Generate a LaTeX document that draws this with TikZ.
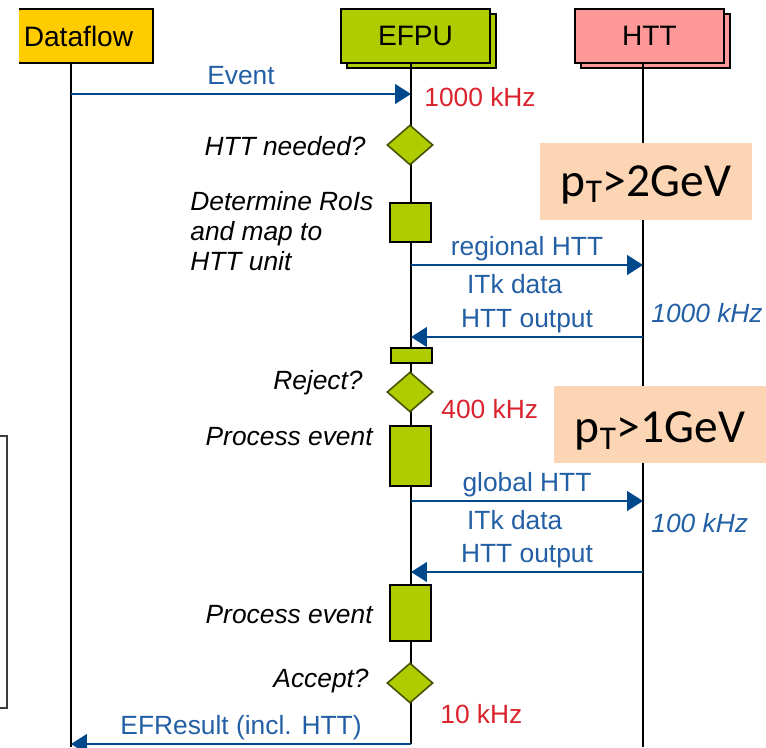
\documentclass[tikz,border=0pt]{standalone}
\usepackage{fontspec}
\setmainfont{Liberation Sans}
\newfontfamily\calibri{Carlito}
\usetikzlibrary{
    arrows.meta,
    positioning,
    shapes.geometric,
    shadows,
    calc
}

\tikzset{
    actor/.style={draw, line width=1.1pt, minimum width=2.98cm, minimum height=1.08cm,
        inner sep=0pt, font=\fontsize{16}{19}\selectfont},
    actorshadow/.style={fill=#1,
        copy shadow={shadow xshift=3.4pt, shadow yshift=-2.8pt, fill=#1, draw=black, line width=1.1pt}},
    life/.style={line width=1.5pt},
    act/.style={draw, fill=efgreen, line width=0.9pt, minimum width=0.82cm, inner sep=0pt},
    decide/.style={diamond, draw=efgreen!40!black, fill=efgreen, line width=0.9pt,
        minimum width=0.92cm, minimum height=0.8cm, inner sep=0pt},
    msg/.style={draw=msgblue, line width=1.6pt, -{Triangle[length=9pt,width=11pt]}},
    msgtext/.style={text=txtblue, font=\fontsize{15}{17.5}\selectfont, inner sep=1.3pt,
        text height=10.9pt, text depth=3.2pt},
    ask/.style={font=\fontsize{15}{17}\selectfont\itshape, inner sep=0pt},
    rate/.style={font=\fontsize{15}{17}\selectfont, inner sep=0pt, anchor=base west},
    ptbox/.style={fill=ptpeach, minimum width=4.24cm, minimum height=1.54cm, inner sep=0pt,
        text depth=0pt, font=\calibri\fontsize{27}{30}\selectfont}
}

\begin{document}
\begin{tikzpicture}[x=0.02cm, y=-0.02cm]
% Define palette
\definecolor{dfyellow}{RGB}{255, 204, 0}
\definecolor{efgreen}{RGB}{174, 204, 0}
\definecolor{httpink}{RGB}{255, 153, 153}
\definecolor{msgblue}{RGB}{0, 72, 140}
\definecolor{txtblue}{RGB}{35, 95, 165}
\definecolor{ratered}{RGB}{218, 35, 45}
\definecolor{ptpeach}{RGB}{252, 213, 181}
\definecolor{framegray}{RGB}{60, 60, 60}

\useasboundingbox (0,0) rectangle (766,747);

% Lifeline columns and message rows
\coordinate (dfx) at (71,0);
\coordinate (efx) at (411,0);
\coordinate (httx) at (643,0);
\coordinate (bot) at (0,747);
\foreach \n/\y in {ev/94, reg/265, out1/337, glob/501, out2/572, res/744}
    \coordinate (\n) at (0,\y);

% Heads
\begin{scope}
    \clip (19,0) rectangle (766,747);
    \node[actor, fill=dfyellow] (df) at (78.5,36) {Dataflow};
\end{scope}
\node[actor, actorshadow=efgreen] (efpu) at (415.5,36) {EFPU};
\node[actor, actorshadow=httpink] (htt) at (649.5,36) {HTT};

% Lifelines
\draw[life] (dfx |- df.south) -- (dfx |- bot);
\draw[life] (efx |- efpu.south) -- (efx |- res);
\draw[life] (httx |- htt.south) -- (httx |- bot);

% Activations on the EFPU line
\node[decide] (need) at (410,145) {};
\node[act, minimum height=0.78cm] (roi) at (410.5,222.5) {};
\node[act, minimum height=0.3cm] (merge) at (411.5,355.5) {};
\node[decide] (rej) at (410,392) {};
\node[act, minimum height=1.2cm] (proc1) at (410.5,456) {};
\node[act, minimum height=1.12cm] (proc2) at (410.5,613) {};
\node[decide] (acc) at (410,683) {};

% Messages
\draw[msg] (dfx |- ev) -- node[msgtext, above] (evtxt) {Event} (efx |- ev);
\draw[msg] (efx |- reg) -- node[msgtext, above] (regtxt) {regional HTT}
    node[msgtext, below, xshift=-7pt, yshift=-3pt] (regitk) {ITk data} (httx |- reg);
\draw[msg] (httx |- out1) -- node[msgtext, above] (out1txt) {HTT output} (efx |- out1);
\draw[msg] (efx |- glob) -- node[msgtext, above] (globtxt) {global HTT}
    node[msgtext, below, xshift=-7pt, yshift=-3pt] (globitk) {ITk data} (httx |- glob);
\draw[msg] (httx |- out2) -- node[msgtext, above] (out2txt) {HTT output} (efx |- out2);
\draw[msg] (efx |- res) -- node[msgtext, above] (restxt) {EFResult (incl. HTT)} (dfx |- res);

% Step texts
\node[ask, anchor=base east] (needtxt) at (366,155) {HTT needed?};
\node[ask, anchor=north west, align=left] (roitxt) at (190,191) {Determine RoIs\\and map to\\HTT unit};
\node[ask, anchor=base east] (rejtxt) at (363,389) {Reject?};
\node[ask, anchor=base east] (proc1txt) at (373,445) {Process event};
\node[ask, anchor=base east] (proc2txt) at (373,623) {Process event};
\node[ask, anchor=base east] (acctxt) at (369,687) {Accept?};

% Rates
\node[rate, text=ratered] (r1000) at (424,106) {1000 kHz};
\node[rate, text=ratered] (r400) at (441,418) {400 kHz};
\node[rate, text=ratered] (r10) at (440,723) {10 kHz};
\node[rate, text=txtblue, font=\fontsize{15}{17}\selectfont\itshape] (h1000) at (651,322) {1000 kHz};
\node[rate, text=txtblue, font=\fontsize{15}{17}\selectfont\itshape] (h100) at (651,532) {100 kHz};

% pT cuts
\node[ptbox, text height=17pt] (pt2) at (646,181.5) {p\textsubscript{T}>2GeV};
\node[ptbox, text height=21pt] (pt1) at (660,424) {p\textsubscript{T}>1GeV};

% Frame at the left edge
\draw[framegray, line width=1.2pt] (0,436) -- (7,436) -- (7,708) -- (0,708);
\end{tikzpicture}
\end{document}
